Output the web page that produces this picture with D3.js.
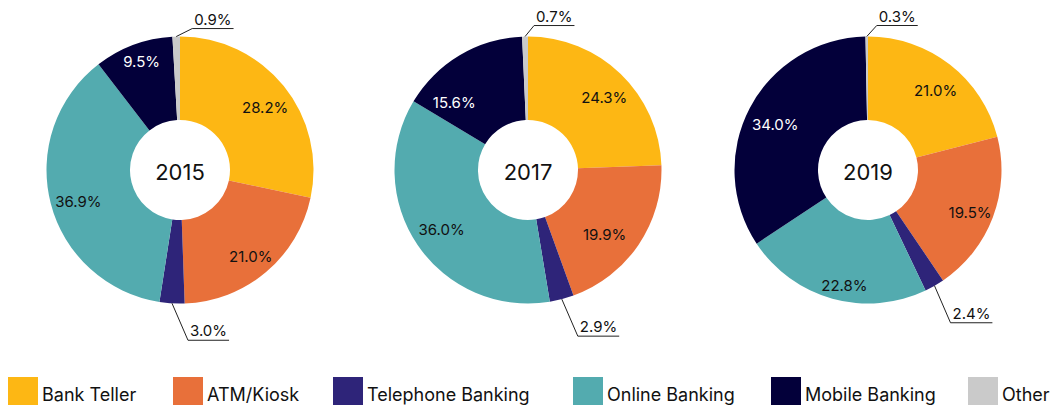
<!DOCTYPE html>
<html>
<head>
<meta charset="utf-8">
<script src="https://cdn.jsdelivr.net/npm/d3@7"></script>
<style>
  html, body { margin: 0; padding: 0; background: #fff; }
  svg { display: block; font-family: Inter, "Noto Sans", sans-serif; }
</style>
</head>
<body>
<svg id="chart" width="1053" height="405"></svg>
<script>
// ---- data ----
const categories = ["Bank Teller", "ATM/Kiosk", "Telephone Banking", "Online Banking", "Mobile Banking", "Other"];
const years = ["2015", "2017", "2019"];
const values2015 = [28.2, 21.0, 3.0, 36.9, 9.5, 0.9];
const values2017 = [24.3, 19.9, 2.9, 36.0, 15.6, 0.7];
const values2019 = [21.0, 19.5, 2.4, 22.8, 34.0, 0.3];
const colors = ["#FDB714", "#E8703A", "#2E2479", "#53ABAF", "#03003A", "#CACACA"];

// ---- layout ----
const seriesByYear = [values2015, values2017, values2019];
const centersX = [180, 528, 868];
const centerY = 170;
const outerR = 133.5;
const innerR = 50;
const labelR = 107;
const labelShift = [2, 5];
// per-label nudges (layout only)
const labelNudges = {
  "2015": { 4: [-3, -13] },
  "2017": { 1: [-14, 0], 3: [0, -5], 4: [-21, 20] },
  "2019": { 3: [3, 8] }
};
// small-slice callouts: offset of elbow from outer-arc point
const calloutOffsets = {
  "2015": { 2: [16, 37], 5: [16, -8] },
  "2017": { 2: [16, 37], 5: [9, -11] },
  "2019": { 2: [16, 37], 5: [10, -11] }
};

const svg = d3.select("#chart");
const colorScale = d3.scaleOrdinal().domain(categories).range(colors);
const pie = d3.pie().sort(null).value(d => d.value);
const arc = d3.arc().innerRadius(innerR).outerRadius(outerR);
const labelArc = d3.arc().innerRadius(labelR).outerRadius(labelR);
const edgeArc = d3.arc().innerRadius(outerR).outerRadius(outerR);

years.forEach((yr, i) => {
  const data = categories.map((c, k) => ({ cat: c, value: seriesByYear[i][k], idx: k }));
  const g = svg.append("g").attr("transform", `translate(${centersX[i]},${centerY})`);
  const arcs = pie(data);

  g.selectAll("path.slice").data(arcs).enter().append("path")
    .attr("class", "slice")
    .attr("d", arc)
    .attr("fill", d => colorScale(d.data.cat));

  g.append("text")
    .attr("text-anchor", "middle")
    .attr("y", 2)
    .attr("dy", "0.35em")
    .attr("font-size", 22)
    .attr("fill", "#111")
    .text(yr);

  const callouts = calloutOffsets[yr];
  const nudges = labelNudges[yr];
  arcs.forEach(d => {
    const label = d.data.value.toFixed(1) + "%";
    if (callouts[d.data.idx]) {
      const [px, py] = edgeArc.centroid(d);
      const off = callouts[d.data.idx];
      const ex = px + off[0], ey = py + off[1];
      const t = g.append("text")
        .attr("x", ex + 2)
        .attr("y", ey - 4)
        .attr("font-size", 15)
        .attr("fill", "#111")
        .text(label);
      const w = t.node().getComputedTextLength();
      g.append("polyline")
        .attr("points", `${px},${py} ${ex},${ey} ${ex + w + 4},${ey}`)
        .attr("fill", "none")
        .attr("stroke", "#222")
        .attr("stroke-width", 1);
    } else {
      const [lx, ly] = labelArc.centroid(d);
      const n = nudges[d.data.idx] || [0, 0];
      g.append("text")
        .attr("x", lx + labelShift[0] + n[0])
        .attr("y", ly + labelShift[1] + n[1])
        .attr("text-anchor", "middle")
        .attr("dy", "0.35em")
        .attr("font-size", 15)
        .attr("fill", d.data.cat === "Mobile Banking" ? "#fff" : "#111")
        .text(label);
    }
  });
});

// ---- legend ----
const legendX = [8, 173, 333, 573, 771, 968];
const legend = svg.append("g");
categories.forEach((c, k) => {
  const lg = legend.append("g").attr("transform", `translate(${legendX[k]},377)`);
  lg.append("rect").attr("width", 30).attr("height", 30).attr("fill", colorScale(c));
  lg.append("text").attr("x", 34).attr("y", 24).attr("font-size", 18).attr("fill", "#111").text(c);
});
</script>
</body>
</html>
